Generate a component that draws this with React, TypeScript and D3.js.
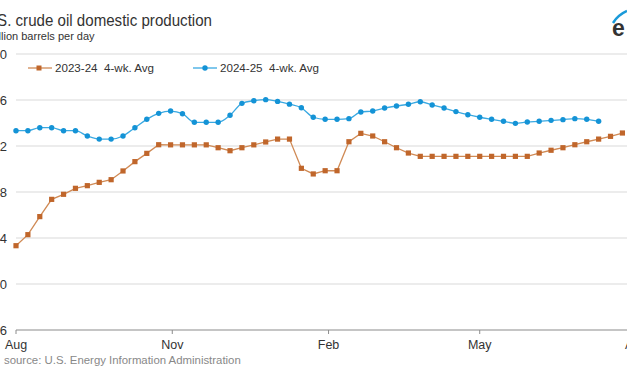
import React from "react";
import * as d3 from "d3";

const START = new Date(2024, 7, 1);
const END = new Date(2025, 7, 1);

const series2324: number[] = [
  12.333, 12.429, 12.586, 12.736, 12.78, 12.832, 12.855, 12.884, 12.907, 12.983,
  13.064, 13.136, 13.211, 13.21, 13.21, 13.21, 13.21, 13.185, 13.159, 13.185,
  13.21, 13.235, 13.26, 13.26, 13.006, 12.957, 12.985, 12.985, 13.237, 13.31,
  13.287, 13.237, 13.185, 13.139, 13.11, 13.11, 13.11, 13.11, 13.11, 13.11,
  13.11, 13.11, 13.11, 13.11, 13.139, 13.163, 13.185, 13.211, 13.237, 13.26,
  13.284, 13.313,
];

const series2425: number[] = [
  13.333, 13.333, 13.359, 13.359, 13.333, 13.333, 13.287, 13.26, 13.26, 13.287,
  13.359, 13.432, 13.484, 13.504, 13.481, 13.406, 13.406, 13.406, 13.467, 13.571,
  13.594, 13.603, 13.588, 13.564, 13.532, 13.45, 13.432, 13.432, 13.438, 13.496,
  13.504, 13.53, 13.548, 13.563, 13.585, 13.557, 13.53, 13.499, 13.472, 13.45,
  13.432, 13.415, 13.397, 13.409, 13.415, 13.423, 13.429, 13.438, 13.432, 13.415,
];

const yTicks: number[] = [11.6, 12.0, 12.4, 12.8, 13.2, 13.6, 14.0];
const xTickDates: Date[] = [
  new Date(2024, 7, 1),
  new Date(2024, 10, 1),
  new Date(2025, 1, 1),
  new Date(2025, 4, 1),
  new Date(2025, 7, 1),
];
const xTickLabels: string[] = ["Aug", "Nov", "Feb", "May", "Aug"];

const legendLabels: string[] = ["2023-24  4-wk. Avg", "2024-25  4-wk. Avg"];

const W = 627;
const H = 376;
const FONT = "'Liberation Sans', Arial, sans-serif";
const BROWN = "#c0662b";
const BROWN_LINE = "#d08a55";
const BLUE = "#1493d6";
const BLUE_LINE = "#3aa9e2";

export default function App() {
  const x = d3.scaleTime().domain([START, END]).range([16, 636]);
  const y = d3.scaleLinear().domain([11.6, 14.0]).range([330, 54]);
  const dateAt = (i: number) => d3.timeDay.offset(START, i * 7);

  const line = d3
    .line<number>()
    .x((_, i) => x(dateAt(i)))
    .y((d) => y(d));

  return (
    <svg
      width={W}
      height={H}
      style={{ position: "absolute", left: 0, top: 0, background: "#fff", fontFamily: FONT }}
    >
      <rect x={0} y={0} width={W} height={H} fill="#fff" />
      {/* title */}
      <text x={-18} y={26} fontSize={16.5} fill="#333" textLength={230} lengthAdjust="spacingAndGlyphs">
        U.S. crude oil domestic production
      </text>
      <text x={-13} y={40} fontSize={11} fill="#333">
        million barrels per day
      </text>

      {/* eia logo */}
      <text x={612} y={36} fontSize={23} fontWeight="bold" fill="#333" letterSpacing={5}>
        eia
      </text>
      <path d="M613,23 Q618,15 627,11" stroke="#1a9ad9" strokeWidth={2.5} fill="none" />

      {/* gridlines */}
      {yTicks.slice(1).map((t) => (
        <line key={t} x1={16} x2={W} y1={y(t)} y2={y(t)} stroke="#d9d9d9" strokeWidth={1} />
      ))}
      {/* y labels */}
      {yTicks.map((t) => (
        <text key={"l" + t} x={7} y={y(t) + 4.5} fontSize={13} textAnchor="end" fill="#333">
          {t.toFixed(1)}
        </text>
      ))}

      {/* x axis */}
      <line x1={16} x2={W} y1={330} y2={330} stroke="#8c8c8c" strokeWidth={1.2} />
      {xTickDates.map((d, i) => (
        <g key={"x" + i}>
          <line x1={x(d)} x2={x(d)} y1={330} y2={334} stroke="#8c8c8c" />
          <text x={x(d)} y={349} fontSize={12.5} textAnchor="middle" fill="#333">
            {xTickLabels[i]}
          </text>
        </g>
      ))}

      {/* source */}
      <text x={4} y={364} fontSize={11.4} fill="#888">
        source: U.S. Energy Information Administration
      </text>

      {/* legend */}
      <line x1={28} x2={52} y1={68} y2={68} stroke={BROWN_LINE} strokeWidth={1.3} />
      <rect x={36.5} y={65.5} width={5} height={5} fill={BROWN} />
      <text x={55} y={72} fontSize={11.6} fill="#333" style={{ whiteSpace: "pre" }}>
        {legendLabels[0]}
      </text>
      <line x1={193} x2={217} y1={68} y2={68} stroke={BLUE_LINE} strokeWidth={1.3} />
      <circle cx={205} cy={68} r={2.7} fill={BLUE} />
      <text x={220} y={72} fontSize={11.6} fill="#333" style={{ whiteSpace: "pre" }}>
        {legendLabels[1]}
      </text>

      {/* series 2023-24 */}
      <path d={line(series2324) || ""} fill="none" stroke={BROWN_LINE} strokeWidth={1.3} />
      {series2324.map((v, i) => (
        <rect
          key={"b" + i}
          x={x(dateAt(i)) - 2.6}
          y={y(v) - 2.6}
          width={5.2}
          height={5.2}
          fill={BROWN}
        />
      ))}

      {/* series 2024-25 */}
      <path
        d={d3.line<number>().x((_, i) => x(dateAt(i))).y((d) => y(d)).curve(d3.curveMonotoneX)(series2425) || ""}
        fill="none"
        stroke={BLUE_LINE}
        strokeWidth={1.3}
      />
      {series2425.map((v, i) => (
        <circle key={"c" + i} cx={x(dateAt(i))} cy={y(v)} r={2.7} fill={BLUE} />
      ))}
    </svg>
  );
}
